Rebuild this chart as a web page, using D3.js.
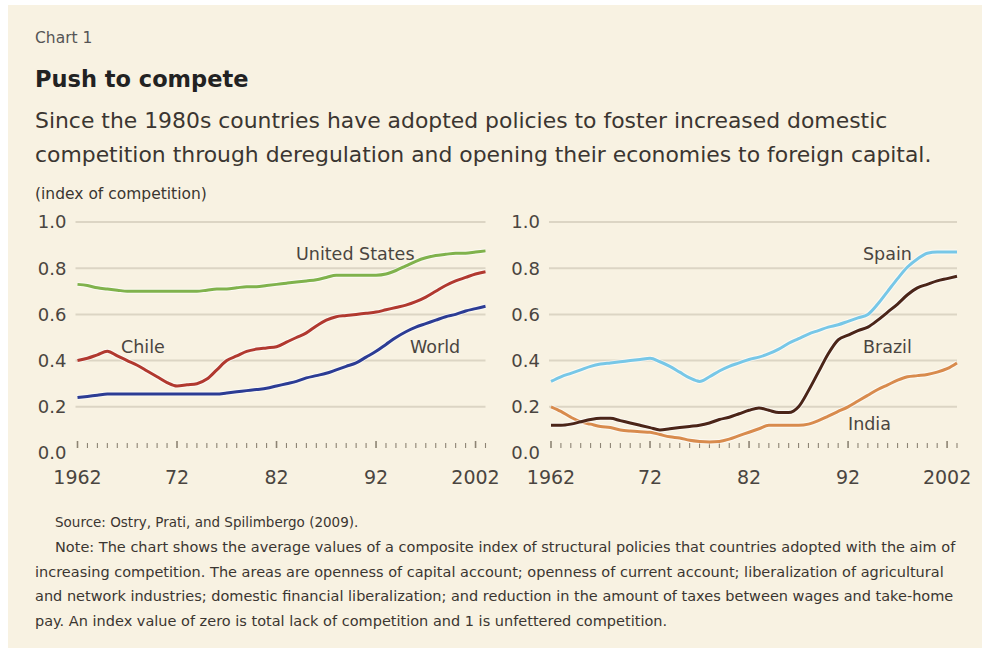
<!DOCTYPE html>
<html>
<head>
<meta charset="utf-8">
<script src="https://cdn.jsdelivr.net/npm/d3@7"></script>
<style>
  body { margin: 0; background: #fff; }
  svg { display: block; font-family: "DejaVu Sans", "Liberation Sans", Arial, sans-serif; }
</style>
</head>
<body>
<div id="chart"></div>
<script>
const years = d3.range(1962, 2004);

// left panel
const unitedStates = [0.73, 0.725, 0.715, 0.71, 0.705, 0.70, 0.70, 0.70, 0.70, 0.70, 0.70, 0.70, 0.70, 0.705,
  0.71, 0.71, 0.715, 0.72, 0.72, 0.725, 0.73, 0.735, 0.74, 0.745, 0.75, 0.76, 0.77, 0.77, 0.77, 0.77, 0.77,
  0.775, 0.79, 0.81, 0.83, 0.845, 0.855, 0.86, 0.865, 0.865, 0.87, 0.875];
const chile = [0.40, 0.41, 0.425, 0.44, 0.42, 0.40, 0.38, 0.355, 0.33, 0.305, 0.29, 0.295, 0.30, 0.32,
  0.36, 0.40, 0.42, 0.44, 0.45, 0.455, 0.46, 0.48, 0.50, 0.52, 0.55, 0.575, 0.59, 0.595, 0.60, 0.605, 0.61,
  0.62, 0.63, 0.64, 0.655, 0.675, 0.70, 0.725, 0.745, 0.76, 0.775, 0.785];
const world = [0.24, 0.245, 0.25, 0.255, 0.255, 0.255, 0.255, 0.255, 0.255, 0.255, 0.255, 0.255, 0.255, 0.255,
  0.255, 0.26, 0.265, 0.27, 0.275, 0.28, 0.29, 0.30, 0.31, 0.325, 0.335, 0.345, 0.36, 0.375, 0.39, 0.415, 0.44,
  0.47, 0.50, 0.525, 0.545, 0.56, 0.575, 0.59, 0.60, 0.615, 0.625, 0.635];

// right panel
const spain = [0.31, 0.33, 0.345, 0.36, 0.375, 0.385, 0.39, 0.395, 0.40, 0.405, 0.41, 0.395, 0.375, 0.35,
  0.325, 0.31, 0.33, 0.355, 0.375, 0.39, 0.405, 0.415, 0.43, 0.45, 0.475, 0.495, 0.515, 0.53, 0.545, 0.555, 0.57,
  0.585, 0.60, 0.645, 0.70, 0.755, 0.805, 0.84, 0.865, 0.87, 0.87, 0.87];
const brazil = [0.12, 0.12, 0.125, 0.135, 0.145, 0.15, 0.15, 0.14, 0.13, 0.12, 0.11, 0.10, 0.105, 0.11,
  0.115, 0.12, 0.13, 0.145, 0.155, 0.17, 0.185, 0.195, 0.185, 0.175, 0.175, 0.20, 0.27, 0.35, 0.43, 0.49, 0.51,
  0.53, 0.545, 0.575, 0.61, 0.645, 0.685, 0.715, 0.73, 0.745, 0.755, 0.765];
const india = [0.20, 0.18, 0.155, 0.135, 0.125, 0.115, 0.11, 0.10, 0.095, 0.092, 0.09, 0.08, 0.07, 0.065,
  0.055, 0.05, 0.048, 0.05, 0.06, 0.075, 0.09, 0.105, 0.12, 0.12, 0.12, 0.12, 0.125, 0.14, 0.16, 0.18, 0.20,
  0.225, 0.25, 0.275, 0.295, 0.315, 0.33, 0.335, 0.34, 0.35, 0.365, 0.39];

const yTicks = [0, 0.2, 0.4, 0.6, 0.8, 1.0];
const xTickYears = [1962, 1972, 1982, 1992, 2002];
const xTickLabels = ["1962", "72", "82", "92", "2002"];

const noteLines = [
  "Note: The chart shows the average values of a composite index of structural policies that countries adopted with the aim of",
  "increasing competition. The areas are openness of capital account; openness of current account; liberalization of agricultural",
  "and network industries; domestic financial liberalization; and reduction in the amount of taxes between wages and take-home",
  "pay. An index value of zero is total lack of competition and 1 is unfettered competition."
];

const width = 1000, height = 648;
const ink = "#3b3631";

const svg = d3.select("#chart").append("svg")
  .attr("width", width)
  .attr("height", height);

svg.append("rect")
  .attr("x", 8).attr("y", 5)
  .attr("width", 974).attr("height", 643)
  .attr("fill", "#f8f2e2");

svg.append("text").attr("x", 35).attr("y", 43)
  .attr("font-size", 15.5).attr("fill", "#555").text("Chart 1");

svg.append("text").attr("x", 35).attr("y", 87)
  .attr("font-size", 22.5).attr("font-weight", "bold").attr("fill", "#222").text("Push to compete");

svg.append("text").attr("x", 35).attr("y", 128)
  .attr("font-size", 21.9).attr("fill", ink)
  .text("Since the 1980s countries have adopted policies to foster increased domestic");
svg.append("text").attr("x", 35).attr("y", 162)
  .attr("font-size", 21.9).attr("fill", ink)
  .text("competition through deregulation and opening their economies to foreign capital.");

svg.append("text").attr("x", 35).attr("y", 199)
  .attr("font-size", 15.5).attr("fill", ink).text("(index of competition)");

const y = d3.scaleLinear().domain([0, 1]).range([453, 222]);

function drawPanel(x0, x1, series, labels) {
  const x = d3.scaleLinear().domain([1962, 2003]).range([x0, x1]);
  const g = svg.append("g");

  g.selectAll("line.grid")
    .data(yTicks.filter(d => d > 0))
    .join("line")
    .attr("class", "grid")
    .attr("x1", x(1962) - 2).attr("x2", x(2003))
    .attr("y1", d => y(d)).attr("y2", d => y(d))
    .attr("stroke", "#dcd5c4").attr("stroke-width", 2);

  g.selectAll("text.ylab")
    .data(yTicks)
    .join("text")
    .attr("class", "ylab")
    .attr("x", x(1962) - 11)
    .attr("y", d => y(d))
    .attr("dy", "0.36em")
    .attr("text-anchor", "end")
    .attr("font-size", 18)
    .attr("fill", "#4a4540")
    .text(d => d.toFixed(1));

  g.selectAll("line.tick")
    .data(years)
    .join("line")
    .attr("class", "tick")
    .attr("x1", d => x(d)).attr("x2", d => x(d))
    .attr("y1", d => xTickYears.includes(d) ? y(0) - 12 : y(0) - 10)
    .attr("y2", y(0) - 5)
    .attr("stroke", "#8d8474")
    .attr("stroke-width", d => xTickYears.includes(d) ? 1.6 : 1.1);

  g.selectAll("text.xlab")
    .data(xTickYears)
    .join("text")
    .attr("class", "xlab")
    .attr("x", d => x(d))
    .attr("y", 484)
    .attr("text-anchor", "middle")
    .attr("font-size", 19)
    .attr("fill", "#4a4540")
    .text((d, i) => xTickLabels[i]);

  const line = d3.line()
    .x((d, i) => x(years[i]))
    .y(d => y(d))
    .curve(d3.curveMonotoneX);

  series.forEach(s => {
    g.append("path")
      .datum(s.values)
      .attr("fill", "none")
      .attr("stroke", "#fff")
      .attr("stroke-opacity", 0.6)
      .attr("stroke-width", 5)
      .attr("d", line);
    g.append("path")
      .datum(s.values)
      .attr("fill", "none")
      .attr("stroke", s.color)
      .attr("stroke-width", 3)
      .attr("stroke-linejoin", "round")
      .attr("d", line);
  });

  labels.forEach(l => {
    g.append("text")
      .attr("x", l.x).attr("y", l.y)
      .attr("font-size", 17.5)
      .attr("fill", "#4a4540")
      .text(l.text);
  });
}

drawPanel(77.5, 485.5, [
  { values: unitedStates, color: "#80b24c" },
  { values: chile, color: "#b1392f" },
  { values: world, color: "#2c3c94" }
], [
  { text: "United States", x: 296, y: 260 },
  { text: "Chile", x: 121, y: 353 },
  { text: "World", x: 410, y: 353 }
]);

drawPanel(551, 957, [
  { values: spain, color: "#77c7e7" },
  { values: india, color: "#d88b4d" },
  { values: brazil, color: "#4b2518" }
], [
  { text: "Spain", x: 863, y: 260 },
  { text: "Brazil", x: 863, y: 353 },
  { text: "India", x: 848, y: 430 }
]);

svg.append("text").attr("x", 55).attr("y", 527)
  .attr("font-size", 13.5).attr("fill", ink)
  .text("Source: Ostry, Prati, and Spilimbergo (2009).");

svg.selectAll("text.note")
  .data(noteLines)
  .join("text")
  .attr("class", "note")
  .attr("x", (d, i) => i === 0 ? 55 : 35)
  .attr("y", (d, i) => 552 + i * 24.7)
  .attr("font-size", 14.5)
  .attr("fill", ink)
  .text(d => d);
</script>
</body>
</html>
